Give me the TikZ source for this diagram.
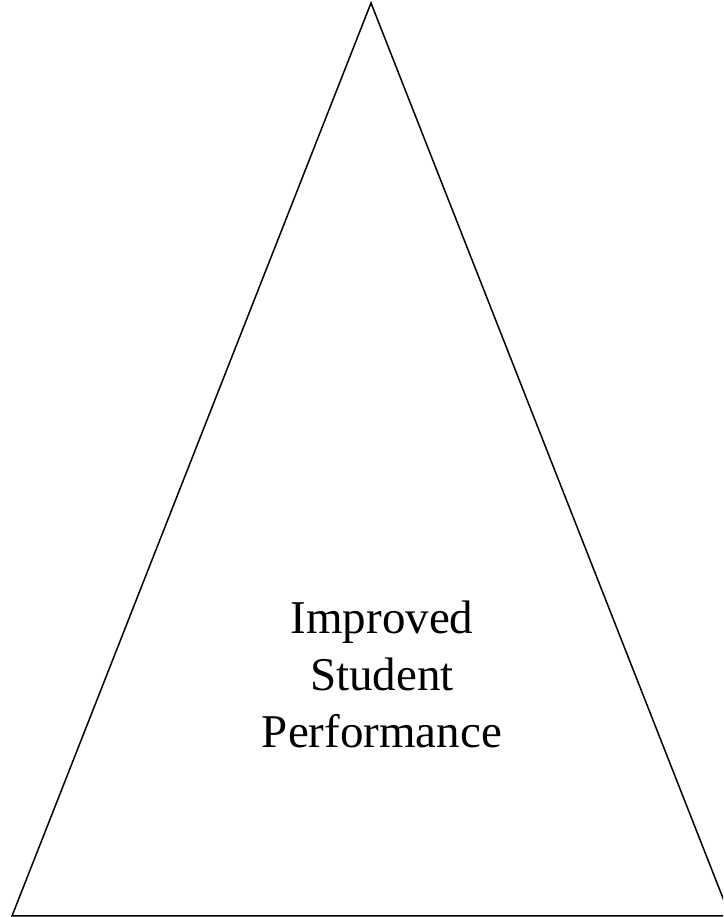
\documentclass[tikz,border=0pt]{standalone}
\usepackage{fontspec}
\setmainfont{Liberation Serif}
\usepackage{tikz}
\usetikzlibrary{positioning}

\begin{document}
\begin{tikzpicture}[
			x=1pt,y=1pt,
			every node/.style={font=\fontsize{47}{57}\selectfont},
			edge/.style={line width=1.5pt,line join=miter}
			]

			\def\w{723}
			\def\h{917}

			\useasboundingbox (0,0) rectangle (\w,\h);

			\coordinate (apex) at (371,914);
			\coordinate (left) at (12,1);
			\coordinate (right) at (730,1);

			\begin{scope}
			\clip (0,0) rectangle (\w,\h);
			\draw[edge] (left) -- (apex) -- (right) -- cycle;
			\end{scope}

			\node[align=center] (goal) at (382,243) {Improved\\Student\\Performance};

			\end{tikzpicture}
\end{document}
